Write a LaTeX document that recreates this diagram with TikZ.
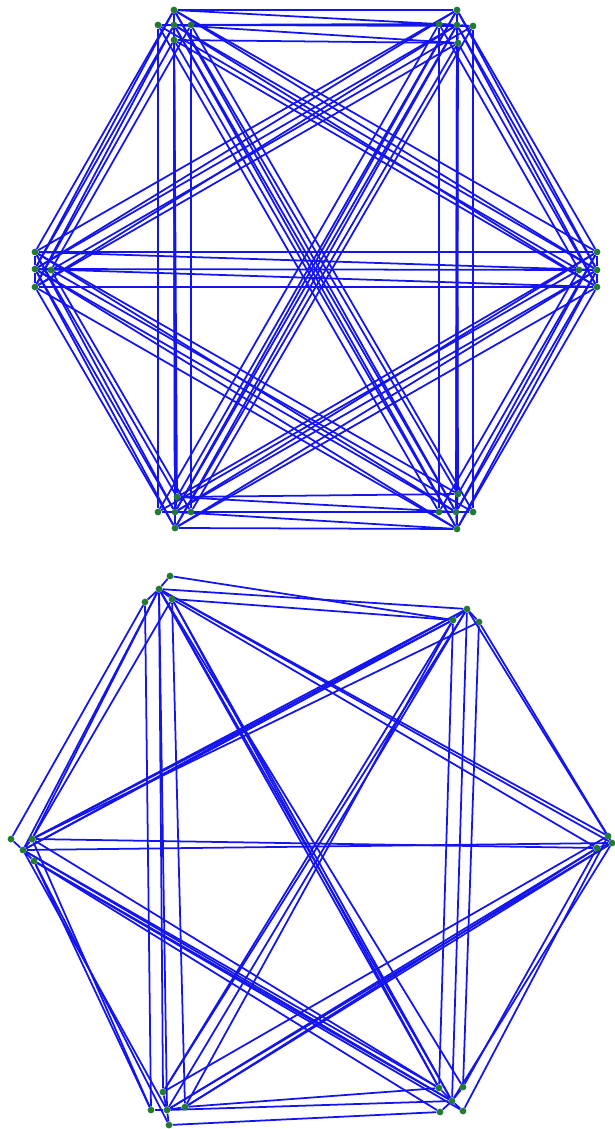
\documentclass[tikz,border=0pt]{standalone}
\usepackage{tikz}
\usetikzlibrary{backgrounds}
\definecolor{gEdge}{HTML}{1414F0}
\definecolor{gVert}{HTML}{237A35}

\begin{document}
\begin{tikzpicture}[
  x=0.025cm, y=-0.025cm,
  vtx/.style={circle, fill=gVert, inner sep=0pt, minimum size=4.8pt},
  edge/.style={draw=gEdge, line width=1.25pt},
]
\useasboundingbox (0,0) rectangle (615,1129);

% ── Upper drawing: six clusters, each a centre with offset copies ─────────────
\foreach \n/\x/\y in {
  tlC/174/25, tlU/174/10, tlL/158/25, tlR/191/25, tlD/174/40,
  trC/457/25, trU/457/10, trL/439/24, trR/473/26, trD/458/43,
  lC/35/269,  lU/35/252,  lD/35/287,  lR/51/270,
  rC/597/270, rU/597/252, rD/597/287, rL/579/270,
  blC/175/512, blU/177/497, blL/158/512, blR/191/512, blD/175/528,
  brC/456/512, brU/458/494, brL/439/512, brR/473/512, brD/457/529}
  \node[vtx] (\n) at (\x,\y) {};

\begin{scope}[on background layer]
  % same offset joined across clusters
  \foreach \t in {C,U,D}{
    \foreach \a/\b in {tl/tr,tl/l,tl/r,tl/bl,tl/br,tr/l,tr/r,tr/bl,tr/br,
                       l/r,l/bl,l/br,r/bl,r/br,bl/br}
      \draw[edge] (\a\t) -- (\b\t);
  }
  \foreach \a/\b in {tl/tr,tl/r,tl/bl,tl/br,tr/r,tr/bl,tr/br,r/bl,r/br,bl/br}
    \draw[edge] (\a L) -- (\b L);
  \foreach \a/\b in {tl/tr,tl/l,tl/bl,tl/br,tr/l,tr/bl,tr/br,l/bl,l/br,bl/br}
    \draw[edge] (\a R) -- (\b R);
  % centre of one cluster to the copies of the next
  \foreach \a/\b in {tl/tr,tl/l,tl/bl,tl/br,tr/r,tr/bl,tr/br,l/r,l/br,r/bl,bl/br,tl/r,tr/l,l/bl,r/br}{
    \draw[edge] (\a C) -- (\b D);
    \draw[edge] (\a U) -- (\b C);
  }
  % short spokes inside each cluster
  \foreach \c/\s in {tl/U,tl/L,tl/R,tl/D,tr/U,tr/L,tr/R,tr/D,l/U,l/D,l/R,
                     r/U,r/D,r/L,bl/U,bl/L,bl/R,bl/D,br/U,br/L,br/R,br/D}
    \draw[edge] (\c C) -- (\c\s);
\end{scope}

% ── Lower drawing: perturbed layout ───────────────────────────────────────────
\foreach \n/\x/\y in {
  ptlC/159/589, ptlA/145/602, ptlB/172/599, ptlT/170/576,
  ptrC/467/609, ptrA/453/620, ptrB/479/622,
  plC/23/850,   plA/11/839,   plB/32/839,   plD/34/861,
  prC/612/843,  prA/608/836,  prB/597/848,
  pblC/167/1110, pblA/151/1110, pblB/185/1107, pblD/169/1125, pblU/163/1092,
  pbrC/452/1101, pbrA/440/1112, pbrB/463/1087, pbrD/463/1111, pbrU/439/1088}
  \node[vtx] (\n) at (\x,\y) {};

\begin{scope}[on background layer]
  \foreach \a/\b in {ptl/ptr,ptl/pl,ptl/pr,ptl/pbl,ptl/pbr,ptr/pl,ptr/pr,ptr/pbl,
                     ptr/pbr,pl/pr,pl/pbl,pl/pbr,pr/pbl,pr/pbr,pbl/pbr}
    \draw[edge] (\a C) -- (\b C);
  \foreach \a/\b in {ptlA/plA,ptlB/plB,ptlC/plB,ptlA/pblA,ptlB/pblB,ptlC/pblU,
                     ptlB/pbrU,ptlC/pbrB,ptlB/pbrC,ptlC/pbrU,
                     ptlB/prB,ptlC/prA,ptlT/ptrA,ptlB/ptrA,
                     ptrA/plB,ptrB/plB,ptrC/plB,ptrA/plC,
                     ptrA/pbrU,ptrB/pbrB,ptrA/pblU,ptrB/prA,ptrA/pblB,ptrC/pblU,
                     plB/prB,plD/pbrA,plD/pbrD,plB/pbrU,plC/pbrU,plD/pbrC,
                     plD/pblD,plD/pblA,plB/pblA,
                     prB/pblB,prA/pblU,prC/pblB,prB/pblC,prB/pbrB,prA/pbrD,
                     pblB/pbrU,pblD/pbrA}
    \draw[edge] (\a) -- (\b);
  \foreach \c/\s in {ptl/A,ptl/B,ptl/T,ptr/A,ptr/B,pl/A,pl/B,pl/D,pr/A,pr/B,
                     pbl/A,pbl/B,pbl/D,pbl/U,pbr/A,pbr/B,pbr/D,pbr/U}
    \draw[edge] (\c C) -- (\c\s);
\end{scope}

\end{tikzpicture}
\end{document}
